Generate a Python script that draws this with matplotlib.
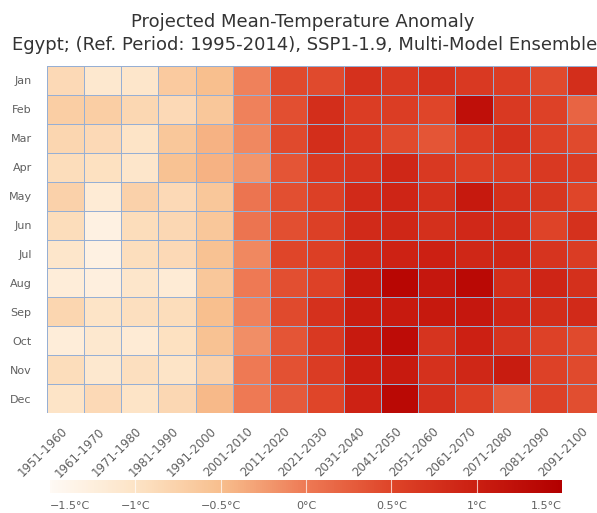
import numpy as np
import matplotlib
matplotlib.use("Agg")
import matplotlib.pyplot as plt
from matplotlib.colors import LinearSegmentedColormap, Normalize

# --- data (anomaly in degC) ---
months = ['Jan', 'Feb', 'Mar', 'Apr', 'May', 'Jun',
          'Jul', 'Aug', 'Sep', 'Oct', 'Nov', 'Dec']
decades = ['1951-1960', '1961-1970', '1971-1980', '1981-1990', '1991-2000',
           '2001-2010', '2011-2020', '2021-2030', '2031-2040', '2041-2050',
           '2051-2060', '2061-2070', '2071-2080', '2081-2090', '2091-2100']

jan = [-0.85, -1.10, -1.05, -0.65, -0.50, -0.05, 0.45, 0.45, 0.75, 0.65, 0.75, 0.65, 0.60, 0.45, 0.80]
feb = [-0.70, -0.70, -0.82, -0.85, -0.60, -0.05, 0.40, 0.80, 0.60, 0.60, 0.50, 1.25, 0.65, 0.55, 0.20]
mar = [-0.80, -0.85, -1.00, -0.60, -0.40, -0.10, 0.45, 0.80, 0.65, 0.45, 0.35, 0.60, 0.75, 0.55, 0.45]
apr = [-0.90, -0.95, -1.05, -0.55, -0.40, -0.20, 0.35, 0.65, 0.72, 0.90, 0.65, 0.58, 0.60, 0.65, 0.62]
may = [-0.75, -1.15, -0.75, -0.85, -0.60, 0.05, 0.40, 0.57, 0.85, 0.92, 0.78, 1.10, 0.78, 0.68, 0.50]
jun = [-0.90, -1.30, -0.90, -0.83, -0.60, 0.05, 0.40, 0.57, 0.85, 0.90, 0.78, 0.87, 0.83, 0.52, 0.75]
jul = [-1.05, -1.30, -0.92, -0.85, -0.55, -0.10, 0.50, 0.58, 0.90, 0.95, 0.98, 0.88, 0.90, 0.72, 0.62]
aug = [-1.20, -1.25, -1.05, -1.15, -0.60, 0.00, 0.40, 0.55, 1.10, 1.40, 1.12, 1.35, 0.80, 0.92, 0.78]
sep = [-0.80, -1.00, -0.93, -0.90, -0.50, -0.05, 0.45, 0.75, 1.05, 1.08, 1.10, 1.12, 0.92, 0.82, 0.85]
octo = [-1.20, -1.10, -1.15, -0.95, -0.55, -0.15, 0.35, 0.65, 1.08, 1.30, 0.72, 0.98, 0.72, 0.55, 0.45]
nov = [-0.90, -1.10, -0.93, -1.00, -0.75, 0.00, 0.38, 0.62, 1.00, 1.08, 0.75, 0.90, 1.05, 0.55, 0.45]
dec = [-1.00, -0.85, -1.00, -0.83, -0.45, 0.00, 0.30, 0.50, 0.95, 1.35, 0.77, 0.58, 0.28, 0.55, 0.42]

cbar_ticks = [-1.5, -1.0, -0.5, 0.0, 0.5, 1.0, 1.5]
cbar_labels = ['−1.5°C', '−1°C', '−0.5°C', '0°C', '0.5°C', '1°C', '1.5°C']

values = np.array([jan, feb, mar, apr, may, jun, jul, aug, sep, octo, nov, dec])

# colour ramp matching the legend bar
cmap = LinearSegmentedColormap.from_list('anom', [
    (0.0, '#fffaf5'),
    (1 / 6, '#fde4c6'),
    (2 / 6, '#f8bf8e'),
    (3 / 6, '#ee7a55'),
    (4 / 6, '#df4529'),
    (5 / 6, '#cb1f12'),
    (1.0, '#b30000'),
])
norm = Normalize(vmin=-1.5, vmax=1.5)

W, H = 597, 513
fig = plt.figure(figsize=(W / 100, H / 100), dpi=100)

# heatmap runs a little past the right edge, as in the reference
ax = fig.add_axes([47 / W, 100 / H, 557 / W, 347 / H])
ax.pcolormesh(values, cmap=cmap, norm=norm, edgecolors='#96afd4', linewidth=0.72)
ax.set_xlim(0, len(decades))
ax.set_ylim(len(months), 0)
ax.set_yticks(np.arange(len(months)) + 0.5)
ax.set_yticklabels(months, fontsize=8, color='#606060')
ax.set_xticks(np.arange(len(decades)) + 0.5)
ax.set_xticklabels(decades, fontsize=8.5, color='#606060', rotation=45,
                   ha='right', va='center', rotation_mode='anchor')
ax.tick_params(axis='both', length=0)
ax.tick_params(axis='x', pad=12)
ax.tick_params(axis='y', pad=11)
for s in ax.spines.values():
    s.set_visible(False)

# colour legend
cax = fig.add_axes([50 / W, (H - 493) / H, 512 / W, 13 / H])
grad = np.linspace(-1.5, 1.5, 512).reshape(1, -1)
cax.imshow(grad, aspect='auto', cmap=cmap, norm=norm, extent=[-1.5, 1.5, 0, 1])
for t in cbar_ticks[1:-1]:
    cax.axvline(t, color='white', lw=0.8, alpha=0.7)
cax.set_xlim(-1.5, 1.5)
cax.set_yticks([])
cax.set_xticks(cbar_ticks)
cax.set_xticklabels(cbar_labels, fontsize=8, color='#606060')
cax.get_xticklabels()[0].set_ha('left')
cax.get_xticklabels()[-1].set_ha('right')
cax.tick_params(axis='x', length=0, pad=6)
for s in cax.spines.values():
    s.set_visible(False)

fig.text(303 / W, 1 - 22 / H, 'Projected Mean-Temperature Anomaly',
         ha='center', va='center', fontsize=13, color='#333333')
fig.text(305 / W, 1 - 45 / H,
         'Egypt; (Ref. Period: 1995-2014), SSP1-1.9, Multi-Model Ensemble',
         ha='center', va='center', fontsize=13, color='#333333')

fig.savefig('out.png', dpi=100)
